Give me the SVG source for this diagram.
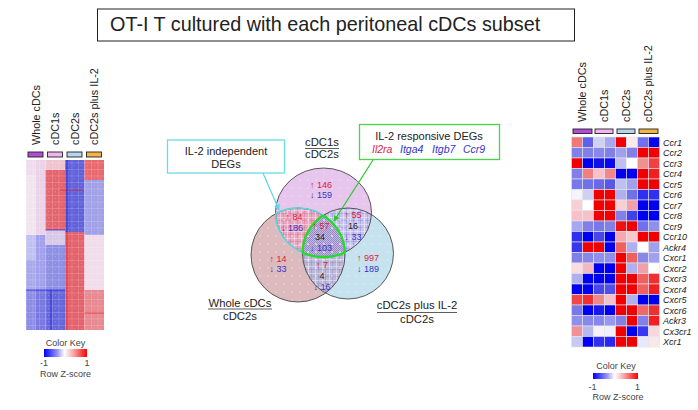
<svg xmlns="http://www.w3.org/2000/svg" width="698" height="410" viewBox="0 0 698 410">
<style>
text{font-family:"Liberation Sans",Arial,"DejaVu Sans",sans-serif;fill:#222}
.lab{font-size:10.8px}
.g{font-size:9px;font-style:italic}
.n{font-size:9px}
.up{fill:#e0203c}
.dn{fill:#3434c0}
.k{font-size:9px;fill:#444}
.bar{stroke:#222;stroke-width:0.9}
.cell{stroke:#e4e4ec;stroke-width:0.6}
.vl{font-size:11.3px;text-anchor:middle}
.circ{fill:none;stroke:#333;stroke-width:0.8}
</style>
<defs>
<linearGradient id="ck" x1="0" y1="0" x2="1" y2="0">
<stop offset="0" stop-color="#0000ff"/><stop offset="0.3" stop-color="#9090f4"/><stop offset="0.48" stop-color="#ffffff"/><stop offset="0.7" stop-color="#f4a0a0"/><stop offset="1" stop-color="#ff0000"/>
</linearGradient>
<pattern id="dots" width="8" height="8" patternUnits="userSpaceOnUse"><circle cx="4" cy="4" r="0.6" fill="#fff" opacity="0.85"/></pattern>
<pattern id="hgrid" width="6.5" height="6.5" patternUnits="userSpaceOnUse"><path d="M0 0.3H6.5M0.3 0V6.5" stroke="#fff" stroke-width="0.5" opacity="0.4"/><circle cx="3.25" cy="3.25" r="0.45" fill="#fff" opacity="0.6"/></pattern>
<pattern id="pTL" width="7" height="7" patternUnits="userSpaceOnUse"><rect width="7" height="7" fill="#e8a8c0"/><path d="M0 3.5H7M3.5 0V7" stroke="#d04474" stroke-width="0.5" opacity="0.5"/><path d="M0 0.3H7M0.3 0V7" stroke="#fff" stroke-width="0.6" opacity="0.8"/></pattern>
<pattern id="pTR" width="7" height="7" patternUnits="userSpaceOnUse"><rect width="7" height="7" fill="#c8c4ee"/><path d="M0 3.5H7M3.5 0V7" stroke="#5858d4" stroke-width="0.5" opacity="0.5"/><path d="M0 0.3H7M0.3 0V7" stroke="#fff" stroke-width="0.6" opacity="0.8"/></pattern>
<pattern id="pLR" width="7" height="7" patternUnits="userSpaceOnUse"><rect width="7" height="7" fill="#bcb8da"/><path d="M0 3.5H7M3.5 0V7" stroke="#7070a8" stroke-width="0.5" opacity="0.5"/><path d="M0 0.3H7M0.3 0V7" stroke="#fff" stroke-width="0.6" opacity="0.8"/></pattern>
<pattern id="pC" width="2" height="2" patternUnits="userSpaceOnUse"><rect width="2" height="2" fill="#c2b8e2"/><rect width="1" height="1" fill="#9888c8"/><rect x="1" y="1" width="1" height="1" fill="#9888c8"/></pattern>
<clipPath id="cT"><ellipse cx="323.5" cy="212.5" rx="48" ry="44.5"/></clipPath>
<clipPath id="cL"><circle cx="298" cy="255" r="47"/></clipPath>
<clipPath id="cR"><circle cx="348" cy="253.5" r="45.5"/></clipPath>
<marker id="ac" viewBox="0 0 10 10" refX="9" refY="5" markerWidth="5" markerHeight="5" orient="auto"><path d="M0 0L10 5L0 10z" fill="#5ad8e0"/></marker>
<marker id="ag" viewBox="0 0 10 10" refX="9" refY="5" markerWidth="5" markerHeight="5" orient="auto"><path d="M0 0L10 5L0 10z" fill="#22cc22"/></marker>
</defs>
<rect width="698" height="410" fill="#fff"/>

<g id="title">
<rect x="97.5" y="9" width="477" height="32" fill="#fff" stroke="#222" stroke-width="1"/>
<text x="110" y="30.5" font-size="19.8">OT-I T cultured with each peritoneal cDCs subset</text>
</g>

<g id="left-heatmap">
<text class="lab" transform="translate(39.5,145) rotate(-90)">Whole cDCs</text>
<text class="lab" transform="translate(59,145) rotate(-90)">cDC1s</text>
<text class="lab" transform="translate(78.5,145) rotate(-90)">cDC2s</text>
<text class="lab" transform="translate(98,145) rotate(-90)">cDC2s plus IL-2</text>
<rect class="bar" x="28" y="152" width="15" height="5" fill="#b04cd8"/>
<rect class="bar" x="47.5" y="152" width="15" height="5" fill="#f2b4f0"/>
<rect class="bar" x="67" y="152" width="15" height="5" fill="#b4d4f2"/>
<rect class="bar" x="86.5" y="152" width="15" height="5" fill="#f4b444"/>
<rect x="26" y="160" width="9.75" height="15" fill="#eedcee"/>
<rect x="26" y="175" width="9.75" height="60" fill="#f2e4ee"/>
<rect x="26" y="235" width="9.75" height="25" fill="#c0c0f0"/>
<rect x="26" y="260" width="9.75" height="30" fill="#a8a8ec"/>
<rect x="26" y="290" width="9.75" height="40" fill="#8c8ce6"/>
<rect x="35.75" y="160" width="9.75" height="75" fill="#ecd2e8"/>
<rect x="35.75" y="235" width="9.75" height="55" fill="#a0a0ec"/>
<rect x="35.75" y="290" width="9.75" height="40" fill="#7878e0"/>
<rect x="45.5" y="160" width="19.5" height="10" fill="#f0c4ce"/>
<rect x="45.5" y="170" width="19.5" height="60" fill="#e4646e"/>
<rect x="45.5" y="230" width="19.5" height="15" fill="#d8c8e8"/>
<rect x="45.5" y="245" width="19.5" height="45" fill="#8e8ee4"/>
<rect x="45.5" y="290" width="19.5" height="40" fill="#6666dc"/>
<rect x="65" y="160" width="19.5" height="72" fill="#6060dc"/>
<rect x="65" y="232" width="19.5" height="98" fill="#e4606a"/>
<rect x="84.5" y="160" width="19.5" height="20" fill="#e8686e"/>
<rect x="84.5" y="180" width="19.5" height="55" fill="#a0a0e8"/>
<rect x="84.5" y="235" width="19.5" height="55" fill="#f0dcea"/>
<rect x="84.5" y="290" width="19.5" height="40" fill="#e88890"/>
<rect x="26" y="160" width="78" height="170" fill="url(#hgrid)"/>
<path d="M67 160V232M45.5 230H65M51 290V330M26 290H65" stroke="#1010d0" stroke-width="0.8" fill="none" opacity="0.8"/>
<path d="M67 232V330M84.5 313H104M60 190H84" stroke="#e01010" stroke-width="0.8" fill="none" opacity="0.7"/>
<text class="k" x="65.5" y="345.5" text-anchor="middle">Color Key</text>
<rect x="44" y="349" width="43" height="8" fill="url(#ck)"/>
<text class="k" x="44" y="366" text-anchor="middle">-1</text>
<text class="k" x="87" y="366" text-anchor="middle">1</text>
<text class="k" x="65.5" y="377" text-anchor="middle" font-size="8">Row Z-score</text>
</g>

<g id="venn">
<circle cx="298" cy="255" r="47" fill="#dcbabe"/>
<circle cx="348" cy="253.5" r="45.5" fill="#c6e2ee"/>
<ellipse cx="323.5" cy="212.5" rx="48" ry="44.5" fill="#e6c6ec"/>
<g clip-path="url(#cR)"><circle cx="298" cy="255" r="47" fill="url(#pLR)"/></g>
<g clip-path="url(#cL)"><ellipse cx="323.5" cy="212.5" rx="48" ry="44.5" fill="url(#pTL)"/></g>
<g clip-path="url(#cR)"><ellipse cx="323.5" cy="212.5" rx="48" ry="44.5" fill="url(#pTR)"/></g>
<g clip-path="url(#cR)"><g clip-path="url(#cL)"><ellipse cx="323.5" cy="212.5" rx="48" ry="44.5" fill="url(#pC)"/></g></g>
<circle cx="298" cy="255" r="47" fill="url(#dots)"/>
<circle cx="348" cy="253.5" r="45.5" fill="url(#dots)"/>
<ellipse cx="323.5" cy="212.5" rx="48" ry="44.5" fill="url(#dots)"/>
<circle class="circ" cx="298" cy="255" r="47"/>
<circle class="circ" cx="348" cy="253.5" r="45.5"/>
<ellipse class="circ" cx="323.5" cy="212.5" rx="48" ry="44.5"/>
<g fill="none" stroke="#5ad8e0" stroke-width="1.6">
<g clip-path="url(#cL)"><ellipse cx="323.5" cy="212.5" rx="48" ry="44.5"/></g>
<g clip-path="url(#cT)"><circle cx="298" cy="255" r="47"/></g>
</g>
<g fill="none" stroke="#22dd22" stroke-width="2.3">
<g clip-path="url(#cL)"><g clip-path="url(#cR)"><ellipse cx="323.5" cy="212.5" rx="48" ry="44.5"/></g></g>
<g clip-path="url(#cT)"><g clip-path="url(#cR)"><circle cx="298" cy="255" r="47"/></g></g>
<g clip-path="url(#cT)"><g clip-path="url(#cL)"><circle cx="348" cy="253.5" r="45.5"/></g></g>
</g>
<g class="n" text-anchor="middle">
<text class="n up" x="321" y="188">↑ 146</text>
<text class="n dn" x="321" y="198">↓ 159</text>
<text class="n up" x="294" y="220">↑ 84</text>
<text class="n dn" x="292" y="231">↓ 186</text>
<text class="n up" x="321" y="229">↑ 57</text>
<text class="n" x="320" y="240">34</text>
<text class="n dn" x="321" y="251">↓ 103</text>
<text class="n up" x="353" y="218">↑ 55</text>
<text class="n" x="353" y="229">16</text>
<text class="n dn" x="353" y="240">↓ 33</text>
<text class="n up" x="278" y="262">↑ 14</text>
<text class="n dn" x="278" y="272">↓ 33</text>
<text class="n up" x="322" y="268">↑ 7</text>
<text class="n" x="322" y="279">4</text>
<text class="n dn" x="322" y="290">↓ 16</text>
<text class="n up" x="368" y="261">↑ 997</text>
<text class="n dn" x="368" y="272">↓ 189</text>
</g>
<text class="vl" x="322" y="145.5">cDC1s</text>
<line x1="305" y1="148.5" x2="339" y2="148.5" stroke="#333" stroke-width="0.8"/>
<text class="vl" x="322" y="158">cDC2s</text>
<text class="vl" x="240" y="306.5">Whole cDCs</text>
<line x1="208" y1="309" x2="272" y2="309" stroke="#333" stroke-width="0.8"/>
<text class="vl" x="240" y="320">cDC2s</text>
<text class="vl" x="417" y="309">cDC2s plus IL-2</text>
<line x1="377" y1="312.5" x2="457" y2="312.5" stroke="#333" stroke-width="0.8"/>
<text class="vl" x="417" y="322.5">cDC2s</text>
</g>

<g id="callout-independent">
<rect x="167.5" y="140" width="117" height="33" fill="#fff" stroke="#6adce4" stroke-width="1.3"/>
<text x="226" y="155" font-size="11" text-anchor="middle">IL-2 independent</text>
<text x="226" y="167.5" font-size="11" text-anchor="middle">DEGs</text>
</g>

<g id="callout-responsive">
<rect x="359.5" y="124.5" width="140" height="35" fill="#fff" stroke="#44d844" stroke-width="1.3"/>
<text x="429" y="140" font-size="11" text-anchor="middle">IL-2 responsive DEGs</text>
<g font-size="10.5" font-style="italic">
<text x="372" y="153" font-size="10.5" style="fill:#e0203c">Il2ra</text>
<text x="400" y="153" font-size="10.5" style="fill:#3434c8">Itga4</text>
<text x="432" y="153" font-size="10.5" style="fill:#3434c8">Itgb7</text>
<text x="463" y="153" font-size="10.5" style="fill:#3434c8">Ccr9</text>
</g>
</g>

<g id="connectors" fill="none">
<line x1="263" y1="173" x2="279" y2="210" stroke="#5ad8e0" stroke-width="1.2" marker-end="url(#ac)"/>
<line x1="373" y1="160" x2="334" y2="221" stroke="#22cc22" stroke-width="1.2" marker-end="url(#ag)"/>
</g>

<g id="right-heatmap">
<text class="lab" transform="translate(586,122) rotate(-90)">Whole cDCs</text>
<text class="lab" transform="translate(608,122) rotate(-90)">cDC1s</text>
<text class="lab" transform="translate(630,122) rotate(-90)">cDC2s</text>
<text class="lab" transform="translate(652,122) rotate(-90)">cDC2s plus IL-2</text>
<rect class="bar" x="573" y="129" width="19" height="4.5" fill="#b04cd8"/>
<rect class="bar" x="595" y="129" width="18" height="4.5" fill="#f2b4f0"/>
<rect class="bar" x="617" y="129" width="18" height="4.5" fill="#b4d4f2"/>
<rect class="bar" x="639" y="129" width="19" height="4.5" fill="#f4b444"/>
<g class="cell">
<g transform="translate(571.5,137)"><rect x="0" width="11" height="10.5" fill="#f07878"/><rect x="11" width="11" height="10.5" fill="#6060e8"/><rect x="22" width="11" height="10.5" fill="#d0d0f4"/><rect x="33" width="11" height="10.5" fill="#a8a8f0"/><rect x="44" width="11" height="10.5" fill="#f00000"/><rect x="55" width="11" height="10.5" fill="#fbeaea"/><rect x="66" width="11" height="10.5" fill="#7070f0"/><rect x="77" width="11" height="10.5" fill="#0808f0"/></g>
<g transform="translate(571.5,147.5)"><rect x="0" width="11" height="10.5" fill="#8080e8"/><rect x="11" width="11" height="10.5" fill="#8080e8"/><rect x="22" width="11" height="10.5" fill="#8888ec"/><rect x="33" width="11" height="10.5" fill="#8080e8"/><rect x="44" width="11" height="10.5" fill="#a0a0ec"/><rect x="55" width="11" height="10.5" fill="#8080e8"/><rect x="66" width="11" height="10.5" fill="#f00000"/><rect x="77" width="11" height="10.5" fill="#f00000"/></g>
<g transform="translate(571.5,158)"><rect x="0" width="11" height="10.5" fill="#f00000"/><rect x="11" width="11" height="10.5" fill="#0000f0"/><rect x="22" width="11" height="10.5" fill="#1010e8"/><rect x="33" width="11" height="10.5" fill="#0808f0"/><rect x="44" width="11" height="10.5" fill="#c0c0f0"/><rect x="55" width="11" height="10.5" fill="#ffffff"/><rect x="66" width="11" height="10.5" fill="#f09090"/><rect x="77" width="11" height="10.5" fill="#f04040"/></g>
<g transform="translate(571.5,168.5)"><rect x="0" width="11" height="10.5" fill="#8080e8"/><rect x="11" width="11" height="10.5" fill="#f08080"/><rect x="22" width="11" height="10.5" fill="#f8c0c8"/><rect x="33" width="11" height="10.5" fill="#f08888"/><rect x="44" width="11" height="10.5" fill="#0000e8"/><rect x="55" width="11" height="10.5" fill="#0000f0"/><rect x="66" width="11" height="10.5" fill="#f00000"/><rect x="77" width="11" height="10.5" fill="#f02020"/></g>
<g transform="translate(571.5,179)"><rect x="0" width="11" height="10.5" fill="#7878e8"/><rect x="11" width="11" height="10.5" fill="#7070e8"/><rect x="22" width="11" height="10.5" fill="#6868e8"/><rect x="33" width="11" height="10.5" fill="#5858e8"/><rect x="44" width="11" height="10.5" fill="#c0c0f0"/><rect x="55" width="11" height="10.5" fill="#a0a0ec"/><rect x="66" width="11" height="10.5" fill="#f00000"/><rect x="77" width="11" height="10.5" fill="#f00000"/></g>
<g transform="translate(571.5,189.5)"><rect x="0" width="11" height="10.5" fill="#f4f4fc"/><rect x="11" width="11" height="10.5" fill="#d0d0f4"/><rect x="22" width="11" height="10.5" fill="#f00000"/><rect x="33" width="11" height="10.5" fill="#f00000"/><rect x="44" width="11" height="10.5" fill="#b0b0f0"/><rect x="55" width="11" height="10.5" fill="#7070e8"/><rect x="66" width="11" height="10.5" fill="#3030f0"/><rect x="77" width="11" height="10.5" fill="#3030f0"/></g>
<g transform="translate(571.5,200)"><rect x="0" width="11" height="10.5" fill="#f8d0d4"/><rect x="11" width="11" height="10.5" fill="#ffffff"/><rect x="22" width="11" height="10.5" fill="#f00000"/><rect x="33" width="11" height="10.5" fill="#f00000"/><rect x="44" width="11" height="10.5" fill="#f8d0d4"/><rect x="55" width="11" height="10.5" fill="#f4a0a8"/><rect x="66" width="11" height="10.5" fill="#0000f0"/><rect x="77" width="11" height="10.5" fill="#0000f0"/></g>
<g transform="translate(571.5,210.5)"><rect x="0" width="11" height="10.5" fill="#f8c0c8"/><rect x="11" width="11" height="10.5" fill="#f8c0c8"/><rect x="22" width="11" height="10.5" fill="#f00000"/><rect x="33" width="11" height="10.5" fill="#f00000"/><rect x="44" width="11" height="10.5" fill="#8080e8"/><rect x="55" width="11" height="10.5" fill="#4040e8"/><rect x="66" width="11" height="10.5" fill="#0000f0"/><rect x="77" width="11" height="10.5" fill="#0000f0"/></g>
<g transform="translate(571.5,221)"><rect x="0" width="11" height="10.5" fill="#a8a8f0"/><rect x="11" width="11" height="10.5" fill="#8080e8"/><rect x="22" width="11" height="10.5" fill="#7878e8"/><rect x="33" width="11" height="10.5" fill="#8080e8"/><rect x="44" width="11" height="10.5" fill="#f01010"/><rect x="55" width="11" height="10.5" fill="#f00000"/><rect x="66" width="11" height="10.5" fill="#7070e8"/><rect x="77" width="11" height="10.5" fill="#9090ec"/></g>
<g transform="translate(571.5,231.5)"><rect x="0" width="11" height="10.5" fill="#3030f0"/><rect x="11" width="11" height="10.5" fill="#0000f0"/><rect x="22" width="11" height="10.5" fill="#4848e8"/><rect x="33" width="11" height="10.5" fill="#0000f0"/><rect x="44" width="11" height="10.5" fill="#f4a8b0"/><rect x="55" width="11" height="10.5" fill="#f8c8cc"/><rect x="66" width="11" height="10.5" fill="#f00000"/><rect x="77" width="11" height="10.5" fill="#f00000"/></g>
<g transform="translate(571.5,242)"><rect x="0" width="11" height="10.5" fill="#3838e8"/><rect x="11" width="11" height="10.5" fill="#f00000"/><rect x="22" width="11" height="10.5" fill="#f00000"/><rect x="33" width="11" height="10.5" fill="#0000f0"/><rect x="44" width="11" height="10.5" fill="#f06060"/><rect x="55" width="11" height="10.5" fill="#b0b0f0"/><rect x="66" width="11" height="10.5" fill="#ffffff"/><rect x="77" width="11" height="10.5" fill="#a0a0ec"/></g>
<g transform="translate(571.5,252.5)"><rect x="0" width="11" height="10.5" fill="#8080e8"/><rect x="11" width="11" height="10.5" fill="#8888ec"/><rect x="22" width="11" height="10.5" fill="#9090ec"/><rect x="33" width="11" height="10.5" fill="#9090ec"/><rect x="44" width="11" height="10.5" fill="#f00000"/><rect x="55" width="11" height="10.5" fill="#f06060"/><rect x="66" width="11" height="10.5" fill="#8888e8"/><rect x="77" width="11" height="10.5" fill="#a0a0ec"/></g>
<g transform="translate(571.5,263)"><rect x="0" width="11" height="10.5" fill="#f8dce0"/><rect x="11" width="11" height="10.5" fill="#f4b8c0"/><rect x="22" width="11" height="10.5" fill="#0000f0"/><rect x="33" width="11" height="10.5" fill="#0000f0"/><rect x="44" width="11" height="10.5" fill="#f00000"/><rect x="55" width="11" height="10.5" fill="#b0b0f0"/><rect x="66" width="11" height="10.5" fill="#f0a0a8"/><rect x="77" width="11" height="10.5" fill="#ffffff"/></g>
<g transform="translate(571.5,273.5)"><rect x="0" width="11" height="10.5" fill="#b0b0f0"/><rect x="11" width="11" height="10.5" fill="#0000f0"/><rect x="22" width="11" height="10.5" fill="#0000f0"/><rect x="33" width="11" height="10.5" fill="#0000f0"/><rect x="44" width="11" height="10.5" fill="#f00000"/><rect x="55" width="11" height="10.5" fill="#f00000"/><rect x="66" width="11" height="10.5" fill="#f06060"/><rect x="77" width="11" height="10.5" fill="#f03030"/></g>
<g transform="translate(571.5,284)"><rect x="0" width="11" height="10.5" fill="#0000f0"/><rect x="11" width="11" height="10.5" fill="#0000f0"/><rect x="22" width="11" height="10.5" fill="#4848e8"/><rect x="33" width="11" height="10.5" fill="#5050e8"/><rect x="44" width="11" height="10.5" fill="#f00000"/><rect x="55" width="11" height="10.5" fill="#f00000"/><rect x="66" width="11" height="10.5" fill="#f06060"/><rect x="77" width="11" height="10.5" fill="#f02020"/></g>
<g transform="translate(571.5,294.5)"><rect x="0" width="11" height="10.5" fill="#f04848"/><rect x="11" width="11" height="10.5" fill="#f03030"/><rect x="22" width="11" height="10.5" fill="#f08888"/><rect x="33" width="11" height="10.5" fill="#f8c0c8"/><rect x="44" width="11" height="10.5" fill="#f00000"/><rect x="55" width="11" height="10.5" fill="#b0b0f0"/><rect x="66" width="11" height="10.5" fill="#0000f0"/><rect x="77" width="11" height="10.5" fill="#0000f0"/></g>
<g transform="translate(571.5,305)"><rect x="0" width="11" height="10.5" fill="#7878e8"/><rect x="11" width="11" height="10.5" fill="#0000f0"/><rect x="22" width="11" height="10.5" fill="#1818f0"/><rect x="33" width="11" height="10.5" fill="#0000f0"/><rect x="44" width="11" height="10.5" fill="#f00000"/><rect x="55" width="11" height="10.5" fill="#f00000"/><rect x="66" width="11" height="10.5" fill="#f06868"/><rect x="77" width="11" height="10.5" fill="#f03030"/></g>
<g transform="translate(571.5,315.5)"><rect x="0" width="11" height="10.5" fill="#9090ec"/><rect x="11" width="11" height="10.5" fill="#8888e8"/><rect x="22" width="11" height="10.5" fill="#8888ec"/><rect x="33" width="11" height="10.5" fill="#9898ec"/><rect x="44" width="11" height="10.5" fill="#8080e8"/><rect x="55" width="11" height="10.5" fill="#f00000"/><rect x="66" width="11" height="10.5" fill="#8080e8"/><rect x="77" width="11" height="10.5" fill="#f02020"/></g>
<g transform="translate(571.5,326)"><rect x="0" width="11" height="10.5" fill="#f09098"/><rect x="11" width="11" height="10.5" fill="#b8b8f0"/><rect x="22" width="11" height="10.5" fill="#f8f0f8"/><rect x="33" width="11" height="10.5" fill="#f0f0fc"/><rect x="44" width="11" height="10.5" fill="#f00000"/><rect x="55" width="11" height="10.5" fill="#0000f0"/><rect x="66" width="11" height="10.5" fill="#3838f0"/><rect x="77" width="11" height="10.5" fill="#f8d8dc"/></g>
<g transform="translate(571.5,336.5)"><rect x="0" width="11" height="10.5" fill="#c8c8f4"/><rect x="11" width="11" height="10.5" fill="#0000f0"/><rect x="22" width="11" height="10.5" fill="#3030f0"/><rect x="33" width="11" height="10.5" fill="#2828f0"/><rect x="44" width="11" height="10.5" fill="#f00000"/><rect x="55" width="11" height="10.5" fill="#f00000"/><rect x="66" width="11" height="10.5" fill="#e8e8fc"/><rect x="77" width="11" height="10.5" fill="#f8e8e8"/></g>
</g>
<g class="g">
<text class="g" x="663" y="145.5">Ccr1</text>
<text class="g" x="663" y="156">Ccr2</text>
<text class="g" x="663" y="166.5">Ccr3</text>
<text class="g" x="663" y="177">Ccr4</text>
<text class="g" x="663" y="187.5">Ccr5</text>
<text class="g" x="663" y="198">Ccr6</text>
<text class="g" x="663" y="208.5">Ccr7</text>
<text class="g" x="663" y="219">Ccr8</text>
<text class="g" x="663" y="229.5">Ccr9</text>
<text class="g" x="663" y="240">Ccr10</text>
<text class="g" x="663" y="250.5">Ackr4</text>
<text class="g" x="663" y="261">Cxcr1</text>
<text class="g" x="663" y="271.5">Cxcr2</text>
<text class="g" x="663" y="282">Cxcr3</text>
<text class="g" x="663" y="292.5">Cxcr4</text>
<text class="g" x="663" y="303">Cxcr5</text>
<text class="g" x="663" y="313.5">Cxcr6</text>
<text class="g" x="663" y="324">Ackr3</text>
<text class="g" x="663" y="334.5">Cx3cr1</text>
<text class="g" x="663" y="345">Xcr1</text>
</g>
<text class="k" x="616" y="368.5" text-anchor="middle">Color Key</text>
<rect x="593" y="373" width="45" height="6" fill="url(#ck)"/>
<text class="k" x="592.5" y="390" text-anchor="middle">-1</text>
<text class="k" x="637.5" y="390" text-anchor="middle">1</text>
<text class="k" x="618" y="400" text-anchor="middle">Row Z-score</text>
</g>
</svg>
